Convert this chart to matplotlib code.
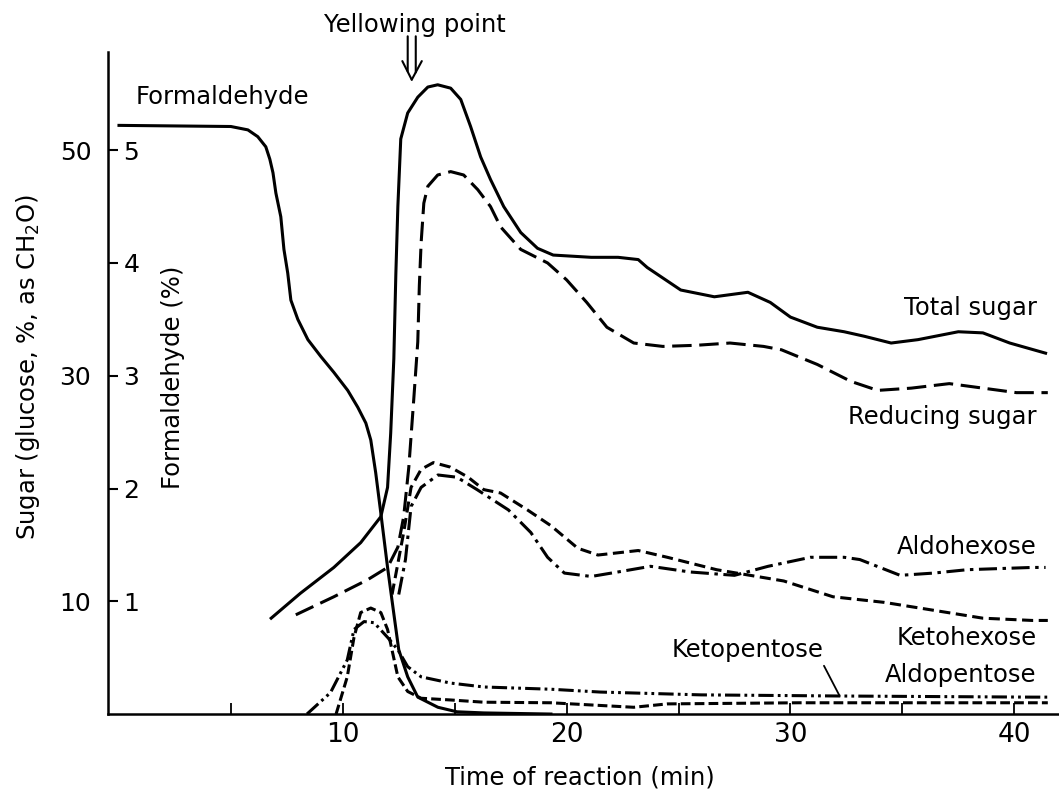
import numpy as np
import matplotlib
matplotlib.use('Agg')
import matplotlib.pyplot as plt

plt.rcParams['font.family'] = ['DejaVu Sans']
plt.rcParams['lines.scale_dashes'] = False

# formaldehyde, % (inner scale)
hcho_t = [0.0, 5.0, 5.76, 6.2, 6.56, 6.74, 6.88, 7.01, 7.23, 7.37, 7.54, 7.68, 7.99, 8.44,
          9.02, 9.6, 10.22, 10.67, 11.03, 11.25, 11.47, 11.7, 12.0, 12.3, 12.5, 12.9, 13.35,
          14.25, 15.1, 16.3, 19.3]
hcho = [5.22, 5.21, 5.18, 5.12, 5.03, 4.92, 4.80, 4.62, 4.41, 4.12, 3.91, 3.67, 3.50, 3.32,
        3.17, 3.03, 2.87, 2.72, 2.58, 2.43, 2.14, 1.78, 1.30, 0.86, 0.57, 0.33, 0.15,
        0.06, 0.02, 0.01, 0.0]

# sugars, % as CH2O (outer scale)
total_t = [6.8, 8.1, 9.6, 10.8, 11.7, 12.0, 12.14, 12.28, 12.37, 12.46, 12.59, 12.9, 13.35,
           13.8, 14.24, 14.82, 15.27, 15.71, 16.16, 16.6, 17.19, 17.95, 18.7, 19.4, 21.1,
           22.3, 23.2, 23.6, 25.1, 26.6, 28.1, 29.1, 30.0, 31.2, 32.4, 33.3, 34.5, 35.7,
           37.5, 38.6, 39.8, 41.4]
total = [8.5, 10.7, 13.0, 15.2, 17.5, 20.1, 24.9, 31.5, 39.0, 45.0, 51.0, 53.3, 54.7,
         55.6, 55.8, 55.5, 54.5, 52.1, 49.4, 47.4, 45.0, 42.7, 41.3, 40.7, 40.5,
         40.5, 40.3, 39.6, 37.6, 37.0, 37.4, 36.5, 35.2, 34.3, 33.9, 33.5, 32.9, 33.2,
         33.9, 33.8, 32.9, 32.0]

reducing_t = [7.9, 9.6, 11.1, 12.0, 12.46, 12.72, 12.95, 13.17, 13.35, 13.42, 13.5, 13.62,
              13.8, 14.24, 14.82, 15.4, 16.03, 16.6, 17.05, 17.95, 19.15, 20.0, 20.9, 21.8,
              23.0, 24.3, 25.8, 27.3, 28.8, 29.6, 31.2, 32.7, 33.9, 35.4, 37.1, 38.6, 40.1,
              41.5]
reducing = [8.8, 10.4, 11.9, 13.0, 14.8, 17.5, 21.9, 27.9, 33.0, 38.0, 41.8, 45.3,
            46.8, 47.8, 48.1, 47.8, 46.5, 45.0, 43.2, 41.2, 40.0, 38.5, 36.5, 34.3,
            32.9, 32.6, 32.7, 32.9, 32.6, 32.3, 31.0, 29.5, 28.7, 28.9, 29.3, 28.9, 28.5,
            28.5]

ketohex_t = [12.2, 12.72, 13.05, 13.5, 14.05, 14.8, 15.6, 16.3, 17.05, 18.25, 19.3, 20.5,
             21.4, 23.2, 24.5, 26.7, 27.9, 29.7, 31.9, 34.2, 36.4, 38.6, 40.8, 41.5]
ketohex = [10.6, 16.1, 20.1, 21.7, 22.3, 21.9, 21.0, 19.9, 19.6, 18.1, 16.7, 14.7,
           14.1, 14.5, 13.9, 12.8, 12.4, 11.8, 10.4, 9.9, 9.2, 8.5, 8.3, 8.3]

aldohex_t = [12.5, 12.8, 13.05, 13.5, 14.25, 15.1, 16.0, 17.4, 18.4, 19.15, 19.9, 21.1,
             22.3, 23.75, 25.5, 27.5, 29.0, 30.9, 32.4, 33.1, 34.9, 36.4, 37.9, 40.8, 41.4]
aldohex = [10.6, 13.7, 18.4, 20.1, 21.2, 21.0, 19.9, 18.1, 16.1, 13.9, 12.5, 12.2,
           12.6, 13.1, 12.6, 12.3, 13.1, 13.9, 13.9, 13.7, 12.3, 12.5, 12.8, 13.0, 13.0]

ketopent_t = [8.4, 9.45, 10.2, 10.5, 10.95, 11.4, 12.0, 12.46, 12.9, 13.5, 14.8, 16.3,
              17.8, 19.3, 21.5, 26.0, 32.2, 40.8, 41.5]
ketopent = [0.0, 1.9, 4.8, 7.5, 8.2, 8.1, 6.8, 5.7, 4.2, 3.3, 2.75, 2.4,
            2.3, 2.2, 1.95, 1.7, 1.6, 1.5, 1.5]

aldopent_t = [9.7, 10.2, 10.5, 10.8, 11.25, 11.7, 12.0, 12.23, 12.46, 12.9, 13.5, 14.8,
              16.3, 19.3, 23.0, 24.5, 30.4, 40.8, 41.5]
aldopent = [0.0, 3.3, 6.8, 9.0, 9.4, 9.0, 7.5, 5.4, 3.3, 2.0, 1.4, 1.25,
            1.05, 1.0, 0.6, 0.9, 1.0, 1.0, 1.0]

SUGAR_PER_HCHO = 10.0   # 50 on the sugar scale sits at 5 on the formaldehyde scale
YELLOWING = 13.08       # min

fig = plt.figure(figsize=(10.59, 7.89), dpi=100)
ax = fig.add_axes([0.102, 0.095, 0.898, 0.839])

lw = 2.2
ax.plot(hcho_t, hcho, color='k', lw=lw)
ax.plot(total_t, np.array(total) / SUGAR_PER_HCHO, color='k', lw=lw)
ax.plot(reducing_t, np.array(reducing) / SUGAR_PER_HCHO, color='k', lw=lw, ls=(0, (14, 5.5)))
ax.plot(ketohex_t, np.array(ketohex) / SUGAR_PER_HCHO, color='k', lw=lw, ls=(0, (8, 4)))
ax.plot(aldohex_t, np.array(aldohex) / SUGAR_PER_HCHO, color='k', lw=lw, ls=(0, (13, 4, 2.5, 4)))
ax.plot(ketopent_t, np.array(ketopent) / SUGAR_PER_HCHO, color='k', lw=lw,
        ls=(0, (11, 3, 2, 3, 2, 3)))
ax.plot(aldopent_t, np.array(aldopent) / SUGAR_PER_HCHO, color='k', lw=lw, ls=(0, (7, 3)))

ax.set_xlim(-0.49, 42.0)
ax.set_ylim(0, 5.87)
for s in ['top', 'right']:
    ax.spines[s].set_visible(False)
for s in ['left', 'bottom']:
    ax.spines[s].set_linewidth(1.8)

ax.set_xticks([10, 20, 30, 40])
ax.set_xticks([5, 15, 25, 35], minor=True)
ax.tick_params(axis='x', which='both', direction='in', length=8, width=1.3, labelsize=19, pad=6)
ax.set_yticks([1, 2, 3, 4, 5])
ax.tick_params(axis='y', direction='in', length=7, width=1.5, labelsize=18, pad=-11)
for lab in ax.get_yticklabels():
    lab.set_ha('left')

sec = ax.secondary_yaxis(0, functions=(lambda f: f * SUGAR_PER_HCHO,
                                       lambda s: s / SUGAR_PER_HCHO))
sec.set_yticks([10, 30, 50])
sec.tick_params(length=0, labelsize=18, pad=12)
sec.spines['left'].set_visible(False)

ax.set_xlabel('Time of reaction (min)', fontsize=17.5)
ax.xaxis.set_label_coords(0.496, -0.077)
ax.text(-0.084, 0.524, 'Sugar (glucose, %, as CH$_2$O)', transform=ax.transAxes,
        rotation=90, ha='center', va='center', fontsize=17.5)
ax.text(0.068, 0.508, 'Formaldehyde (%)', transform=ax.transAxes,
        rotation=90, ha='center', va='center', fontsize=17.5)

# curve names
ax.text(0.76, 5.47, 'Formaldehyde', ha='left', va='center', fontsize=17.5)
ax.text(41.0, 3.60, 'Total sugar', ha='right', va='center', fontsize=17.5)
ax.text(41.0, 2.63, 'Reducing sugar', ha='right', va='center', fontsize=17.5)
ax.text(41.0, 1.48, 'Aldohexose', ha='right', va='center', fontsize=17.5)
ax.text(41.0, 0.67, 'Ketohexose', ha='right', va='center', fontsize=17.5)
ax.text(41.0, 0.35, 'Aldopentose', ha='right', va='center', fontsize=17.5)
ax.annotate('Ketopentose', xy=(32.2, 0.16), xytext=(24.7, 0.57), ha='left', va='center',
            fontsize=17.5,
            arrowprops=dict(arrowstyle='-', color='k', lw=1.3, relpos=(0.98, 0.1),
                            shrinkA=1, shrinkB=0))

# yellowing point: open double-shafted arrow
ax.text(13.2, 6.11, 'Yellowing point', ha='center', va='center', fontsize=17.5, clip_on=False)
line = dict(arrowstyle='-', color='k', lw=1.5, shrinkA=0, shrinkB=0)
for dx, y_end in [(-0.18, 5.70), (0.18, 5.69)]:
    ax.annotate('', xy=(YELLOWING + dx, y_end), xytext=(YELLOWING + dx, 6.01),
                arrowprops=line, annotation_clip=False)
for dx in [-0.42, 0.45]:
    ax.annotate('', xy=(YELLOWING, 5.625), xytext=(YELLOWING + dx, 5.79),
                arrowprops=line, annotation_clip=False)

fig.savefig('out.png', dpi=100)
